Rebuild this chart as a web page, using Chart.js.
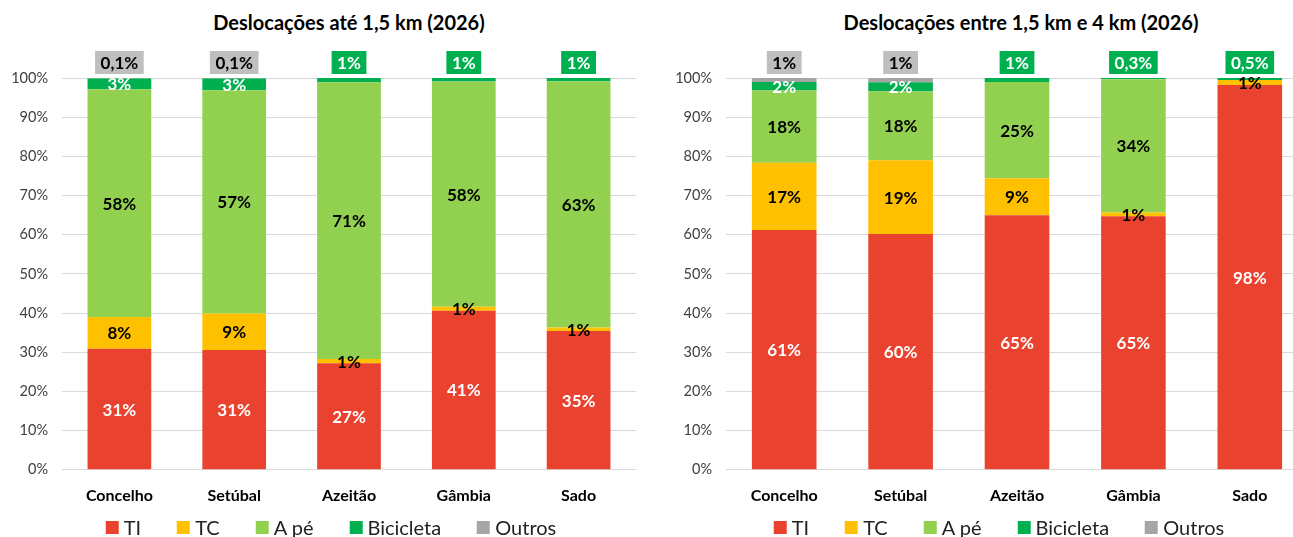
<!DOCTYPE html>
<html lang="pt">
<head>
<meta charset="utf-8">
<title>Deslocações 2026</title>
<script src="https://cdn.jsdelivr.net/npm/chart.js@4.4.1/dist/chart.umd.min.js"></script>
<style>
    html, body { margin: 0; padding: 0; background: #fff; }
    body { width: 1293px; height: 537px; overflow: hidden; position: relative; font-family: Lato, sans-serif; }
    canvas { position: absolute; top: 0; }
    #c1 { left: 0; }
    #c2 { left: 646px; }
    .title { position: absolute; top: 9px; transform: translateX(-50%); white-space: nowrap;
             font-weight: bold; font-size: 20px; color: #000; line-height: 26px; }
    .legend { position: absolute; top: 515px; transform: translateX(-50%); display: flex; gap: 36px;
              white-space: nowrap; font-size: 20px; color: #222; line-height: 24px; }
    .legend span { display: flex; align-items: center; }
    .legend i { display: inline-block; width: 13px; height: 13px; margin-right: 5px; }
</style>
</head>
<body>
<div class="title" style="left: 349px;">Deslocações até 1,5 km (2026)</div>
<div class="title" style="left: 1021px;">Deslocações entre 1,5 km e 4 km (2026)</div>
<canvas id="c1" width="646" height="537"></canvas>
<canvas id="c2" width="662" height="537"></canvas>
<div class="legend" id="leg1" style="left: 331px;"></div>
<div class="legend" id="leg2" style="left: 999px;"></div>

<script>
const categories = ['Concelho', 'Setúbal', 'Azeitão', 'Gâmbia', 'Sado'];
const seriesNames = ['TI', 'TC', 'A pé', 'Bicicleta', 'Outros'];
const yTicks = [0, 10, 20, 30, 40, 50, 60, 70, 80, 90, 100];

// Deslocações até 1,5 km (%)
const ate15TI = [30.9, 30.6, 27.2, 40.6, 35.4];
const ate15TC = [8.1, 9.3, 1.1, 1.0, 0.9];
const ate15Ape = [58.1, 57.0, 70.6, 57.5, 62.9];
const ate15Bic = [2.8, 3.0, 1.1, 0.9, 0.8];
const ate15Outros = [0.1, 0.1, 0, 0, 0];

// Deslocações entre 1,5 km e 4 km (%)
const entreTI = [61.2, 60.2, 65.0, 64.7, 98.2];
const entreTC = [17.2, 18.8, 9.4, 1.0, 1.3];
const entreApe = [18.4, 17.6, 24.6, 34.0, 0];
const entreBic = [2.2, 2.3, 1.0, 0.3, 0.5];
const entreOutros = [1.0, 1.1, 0, 0, 0];

const colors = ['#E9432F', '#FFC000', '#92D050', '#00B050', '#A5A5A5'];
const labelColors = ['#fff', '#000', '#000', '#fff', '#000'];
const boxColors = [null, null, null, '#00B050', '#BFBFBF'];

Chart.defaults.font.family = 'Lato, sans-serif';

function fmt(v) {
    if (v < 0.6) return v.toFixed(1).replace('.', ',') + '%';
    return Math.round(v) + '%';
}

const segLabels = {
    id: 'segLabels',
    afterDatasetsDraw(chart) {
        const ctx = chart.ctx;
        const sets = chart.data.datasets;
        const outros = sets[4].data;
        ctx.save();
        ctx.font = 'bold 17px Lato, sans-serif';
        ctx.textAlign = 'center';
        ctx.textBaseline = 'middle';
        sets.forEach((ds, i) => {
            const meta = chart.getDatasetMeta(i);
            meta.data.forEach((bar, j) => {
                const v = ds.data[j];
                if (!v) return;
                const txt = fmt(v);
                const boxed = i === 4 || (i === 3 && !outros[j]);
                if (boxed) {
                    let total = 0;
                    sets.forEach(s => total += s.data[j]);
                    const top = chart.scales.y.getPixelForValue(Math.min(total, 100));
                    const w = ctx.measureText(txt).width + 11;
                    const h = 23;
                    const cy = top - 4 - h / 2;
                    ctx.fillStyle = boxColors[i];
                    ctx.fillRect(bar.x - w / 2, cy - h / 2, w, h);
                    ctx.fillStyle = labelColors[i];
                    ctx.fillText(txt, bar.x, cy + 1);
                } else {
                    ctx.fillStyle = labelColors[i];
                    ctx.fillText(txt, bar.x, (bar.y + bar.base) / 2 + 1);
                }
            });
        });
        ctx.restore();
    }
};

function buildChart(canvasId, series, yWidth, padRight) {
    const ctx = document.getElementById(canvasId).getContext('2d');
    return new Chart(ctx, {
        type: 'bar',
        data: {
            labels: categories,
            datasets: series.map((data, i) => ({
                label: seriesNames[i],
                data: data,
                backgroundColor: colors[i],
                borderWidth: 0,
                barPercentage: 0.555,
                categoryPercentage: 1
            }))
        },
        options: {
            responsive: false,
            animation: false,
            devicePixelRatio: 1,
            layout: { padding: { top: 78, bottom: 24, left: 0, right: padRight } },
            plugins: {
                legend: { display: false },
                tooltip: { enabled: false }
            },
            scales: {
                x: {
                    stacked: true,
                    grid: { display: false },
                    border: { display: false },
                    ticks: {
                        color: '#000',
                        padding: 8,
                        font: { size: 16, weight: 'bold' }
                    }
                },
                y: {
                    stacked: true,
                    min: 0,
                    max: 100,
                    afterBuildTicks: scale => { scale.ticks = yTicks.map(v => ({ value: v })); },
                    grid: { color: '#D9D9D9', lineWidth: 1, drawTicks: false },
                    border: { display: false },
                    ticks: {
                        color: '#404040',
                        padding: 14,
                        font: { size: 14.5 },
                        callback: v => v + '%'
                    },
                    afterFit: scale => { scale.width = yWidth; }
                }
            }
        },
        plugins: [segLabels]
    });
}

function buildLegend(id) {
    const el = document.getElementById(id);
    el.innerHTML = seriesNames.map((n, i) =>
        `<span><i style="background:${colors[i]}"></i>${n}</span>`).join('');
}

buildChart('c1', [ate15TI, ate15TC, ate15Ape, ate15Bic, ate15Outros], 62, 10);
buildChart('c2', [entreTI, entreTC, entreApe, entreBic, entreOutros], 80, 0);
buildLegend('leg1');
buildLegend('leg2');
</script>
</body>
</html>
